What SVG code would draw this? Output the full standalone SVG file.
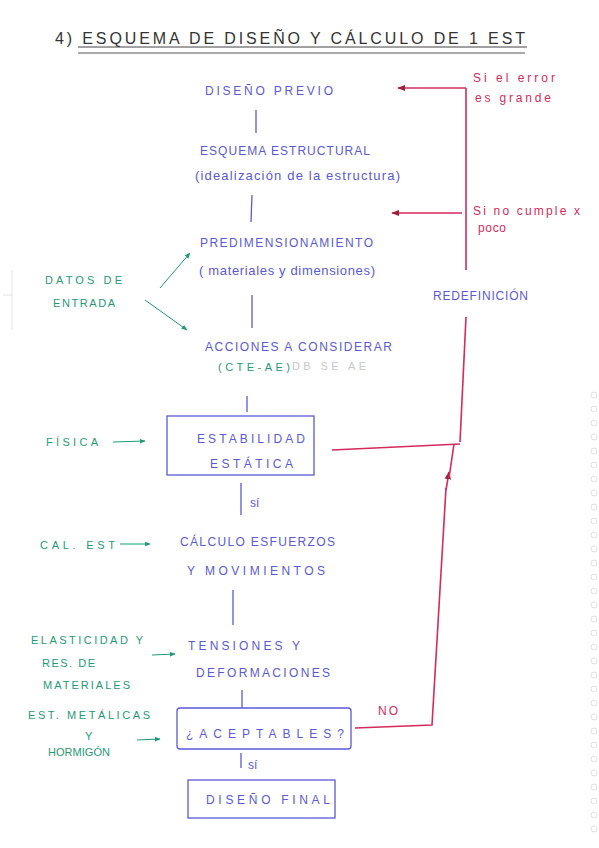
<svg xmlns="http://www.w3.org/2000/svg" width="599" height="848" viewBox="0 0 599 848">
<defs>
<style>
text{font-family:"Liberation Sans",Arial,sans-serif;}
.t{fill:#333;font-size:16px;}
.b{fill:#5a5ad6;font-size:12px;}
.bl{fill:#5a5ad6;font-size:13px;}
.g{fill:#1f9a78;font-size:11px;}
.r{fill:#d42a5c;font-size:12px;}
.gr{fill:#c8c8c8;font-size:11px;}
.bline{stroke:#5a5ad6;stroke-width:1.3;fill:none;}
.gline{stroke:#1f9a78;stroke-width:1;fill:none;}
.rline{stroke:#d42a5c;stroke-width:1.6;fill:none;}
.hole{stroke:#d8d8d8;stroke-width:0.8;fill:none;}
</style>
<marker id="ga" viewBox="0 0 10 10" refX="9" refY="5" markerWidth="6" markerHeight="6" orient="auto"><path d="M0,1 L10,5 L0,9 z" fill="#1f9a78"/></marker>
<marker id="ra" viewBox="0 0 10 10" refX="9" refY="5" markerWidth="5" markerHeight="5" orient="auto"><path d="M0,1 L10,5 L0,9 z" fill="#a0203a"/></marker>
</defs>
<rect width="599" height="848" fill="#fff"/>
<!-- scan margin & holes -->
<g id="margin">
<line x1="12" y1="270" x2="12" y2="330" stroke="#ddd" stroke-width="0.8"/>
<line x1="3" y1="295" x2="12" y2="295" stroke="#ddd" stroke-width="0.8"/>
<circle class="hole" cx="594" cy="395" r="3"/><circle class="hole" cx="594" cy="409" r="3"/><circle class="hole" cx="594" cy="423" r="3"/><circle class="hole" cx="594" cy="437" r="3"/><circle class="hole" cx="594" cy="451" r="3"/><circle class="hole" cx="594" cy="465" r="3"/><circle class="hole" cx="594" cy="479" r="3"/><circle class="hole" cx="594" cy="493" r="3"/><circle class="hole" cx="594" cy="507" r="3"/><circle class="hole" cx="594" cy="521" r="3"/><circle class="hole" cx="594" cy="535" r="3"/><circle class="hole" cx="594" cy="549" r="3"/><circle class="hole" cx="594" cy="563" r="3"/><circle class="hole" cx="594" cy="577" r="3"/><circle class="hole" cx="594" cy="591" r="3"/><circle class="hole" cx="594" cy="605" r="3"/><circle class="hole" cx="594" cy="619" r="3"/><circle class="hole" cx="594" cy="633" r="3"/><circle class="hole" cx="594" cy="647" r="3"/><circle class="hole" cx="594" cy="661" r="3"/><circle class="hole" cx="594" cy="675" r="3"/><circle class="hole" cx="594" cy="689" r="3"/><circle class="hole" cx="594" cy="703" r="3"/><circle class="hole" cx="594" cy="717" r="3"/><circle class="hole" cx="594" cy="731" r="3"/><circle class="hole" cx="594" cy="745" r="3"/><circle class="hole" cx="594" cy="759" r="3"/><circle class="hole" cx="594" cy="773" r="3"/><circle class="hole" cx="594" cy="787" r="3"/><circle class="hole" cx="594" cy="801" r="3"/><circle class="hole" cx="594" cy="815" r="3"/><circle class="hole" cx="594" cy="829" r="3"/>
</g>
<!-- title -->
<g id="title">
<text class="t" x="55" y="44" textLength="470" lengthAdjust="spacing">4) ESQUEMA  DE  DISEÑO  Y  CÁLCULO  DE  1  EST</text>
<line x1="78" y1="47" x2="527" y2="47" stroke="#444" stroke-width="1.2"/>
<line x1="78" y1="53" x2="525" y2="53" stroke="#555" stroke-width="1"/>
</g>
<!-- connectors -->
<g id="connectors">
<line class="bline" x1="256" y1="110" x2="256" y2="133"/>
<line class="bline" x1="252" y1="195" x2="251" y2="222"/>
<line class="bline" x1="252" y1="295" x2="252" y2="328"/>
<line class="bline" x1="247" y1="396" x2="247" y2="412"/>
<line class="bline" x1="241" y1="483" x2="241" y2="515"/>
<line class="bline" x1="233" y1="590" x2="233" y2="625"/>
<line class="bline" x1="242" y1="690" x2="242" y2="708"/>
<line class="bline" x1="241" y1="753" x2="241" y2="768"/>
<!-- green inputs -->
<line class="gline" x1="160" y1="288" x2="190" y2="253" marker-end="url(#ga)"/>
<line class="gline" x1="145" y1="300" x2="187" y2="330" marker-end="url(#ga)"/>
<line class="gline" x1="113" y1="442" x2="145" y2="441" marker-end="url(#ga)"/>
<line class="gline" x1="120" y1="544" x2="150" y2="544" marker-end="url(#ga)"/>
<line class="gline" x1="152" y1="655" x2="175" y2="654" marker-end="url(#ga)"/>
<line class="gline" x1="137" y1="740" x2="160" y2="739" marker-end="url(#ga)"/>
<!-- red feedback -->
<path class="rline" d="M466,88 L466,270"/>
<line class="rline" x1="466" y1="88" x2="398" y2="88" marker-end="url(#ra)"/>
<line class="rline" x1="462" y1="213" x2="392" y2="213" marker-end="url(#ra)"/>
<path class="rline" d="M466,317 L460,442"/>
<path class="rline" d="M332,450 L460,444"/>
<path class="rline" d="M355,728 L432,725 L446,488"/>
<line class="rline" x1="446" y1="490" x2="449" y2="472" marker-end="url(#ra)"/>
<line class="rline" x1="449" y1="478" x2="454" y2="444"/>
</g>
<!-- blue nodes -->
<g id="n-diseno-previo"><text class="b" x="205" y="95" textLength="128" lengthAdjust="spacing">DISEÑO  PREVIO</text></g>
<g id="n-esquema"><text class="b" x="200" y="155" textLength="170" lengthAdjust="spacing">ESQUEMA  ESTRUCTURAL</text>
<text class="bl" x="195" y="180" textLength="205" lengthAdjust="spacing">(idealización de la estructura)</text></g>
<g id="n-predim"><text class="b" x="200" y="247" textLength="173" lengthAdjust="spacing">PREDIMENSIONAMIENTO</text>
<text class="bl" x="199" y="275" textLength="176" lengthAdjust="spacing">( materiales y dimensiones)</text></g>
<g id="n-acciones"><text class="b" x="205" y="351" textLength="187" lengthAdjust="spacing">ACCIONES  A  CONSIDERAR</text>
<text class="g" x="218" y="371" textLength="72" lengthAdjust="spacing">(CTE-AE)</text>
<text class="gr" x="292" y="370" textLength="74" lengthAdjust="spacing">DB SE AE</text></g>
<g id="n-estabilidad"><rect class="bline" x="167" y="416" width="147" height="59"/>
<text class="b" x="197" y="443" textLength="108" lengthAdjust="spacing">ESTABILIDAD</text>
<text class="b" x="210" y="468" textLength="83" lengthAdjust="spacing">ESTÁTICA</text>
<text class="b" x="250" y="507" font-size="10">sí</text></g>
<g id="n-calculo"><text class="b" x="180" y="546" textLength="155" lengthAdjust="spacing">CÁLCULO   ESFUERZOS</text>
<text class="b" x="187" y="575" textLength="138" lengthAdjust="spacing">Y   MOVIMIENTOS</text></g>
<g id="n-tensiones"><text class="b" x="188" y="650" textLength="112" lengthAdjust="spacing">TENSIONES   Y</text>
<text class="b" x="196" y="677" textLength="134" lengthAdjust="spacing">DEFORMACIONES</text></g>
<g id="n-aceptables"><rect class="bline" x="177" y="708" width="174" height="41" rx="3"/>
<text class="b" x="186" y="738" font-size="14" textLength="158" lengthAdjust="spacing">¿ACEPTABLES?</text>
<text class="b" x="248" y="769" font-size="10">sí</text></g>
<g id="n-diseno-final"><rect class="bline" x="188" y="780" width="147" height="38"/>
<text class="b" x="206" y="804" textLength="124" lengthAdjust="spacing">DISEÑO FINAL</text></g>
<!-- green side labels -->
<g id="l-datos"><text class="g" x="45" y="284" textLength="77" lengthAdjust="spacing">DATOS  DE</text>
<text class="g" x="53" y="307" textLength="62" lengthAdjust="spacing">ENTRADA</text></g>
<g id="l-fisica"><text class="g" x="46" y="446" font-size="12" textLength="52" lengthAdjust="spacing">FÍSICA</text></g>
<g id="l-calest"><text class="g" x="40" y="549" font-size="12" textLength="75" lengthAdjust="spacing">CAL. EST</text></g>
<g id="l-elast"><text class="g" x="31" y="644" textLength="112" lengthAdjust="spacing">ELASTICIDAD  Y</text>
<text class="g" x="42" y="667" textLength="53" lengthAdjust="spacing">RES. DE</text>
<text class="g" x="43" y="689" textLength="87" lengthAdjust="spacing">MATERIALES</text></g>
<g id="l-est"><text class="g" x="28" y="719" textLength="122" lengthAdjust="spacing">EST. METÁLICAS</text>
<text class="g" x="85" y="740">Y</text>
<text class="g" x="48" y="756" textLength="62" lengthAdjust="spacing">HORMIGÓN</text></g>
<!-- red labels -->
<g id="l-red"><text class="r" x="473" y="82" textLength="82" lengthAdjust="spacing">Si el error</text>
<text class="r" x="475" y="102" textLength="76" lengthAdjust="spacing">es grande</text>
<text class="r" x="473" y="215" font-size="11" textLength="107" lengthAdjust="spacing">Si no cumple  x</text>
<text class="r" x="478" y="232" font-size="11" textLength="28" lengthAdjust="spacing">poco</text>
<text class="r" x="378" y="715" font-size="10" textLength="20" lengthAdjust="spacing">NO</text>
<text class="b" x="433" y="300" font-size="10" textLength="95" lengthAdjust="spacing">REDEFINICIÓN</text></g>
</svg>
